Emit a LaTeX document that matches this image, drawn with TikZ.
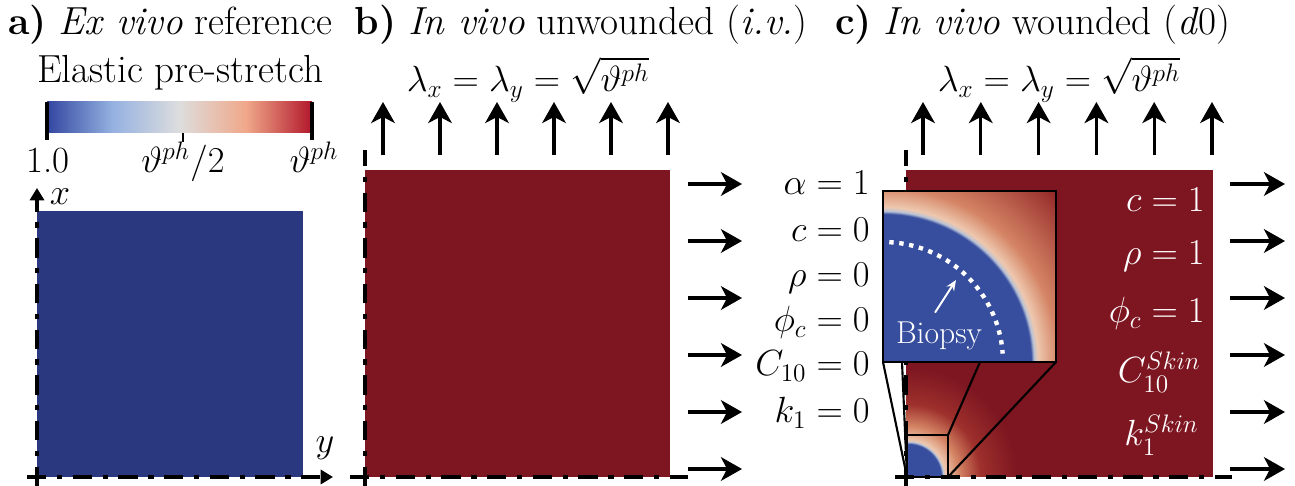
\documentclass[tikz,border=0pt]{standalone}
\usepackage{amsmath,amssymb}
\usepackage{tikz}
\usetikzlibrary{calc,arrows.meta}
\usepackage{xcolor}
\definecolor{refblue}{RGB}{42,57,127}
\definecolor{skinred}{RGB}{125,22,33}
\definecolor{cbblue}{RGB}{50,70,160}
\definecolor{cblight}{RGB}{150,178,225}
\definecolor{cbmid}{RGB}{221,221,221}
\definecolor{cbpeach}{RGB}{240,168,138}
\definecolor{cbred}{RGB}{178,24,43}
\definecolor{woundblue}{RGB}{55,78,158}
\definecolor{rimgray}{RGB}{185,195,215}
\definecolor{peach}{RGB}{238,200,175}
\definecolor{burnt}{RGB}{212,132,100}
\definecolor{deepred}{RGB}{145,36,38}
\definecolor{fadered}{RGB}{158,48,44}

% colour map of the bar (25bp..75bp is the bar)
\pgfdeclarehorizontalshading{prestretch}{100bp}{color(0bp)=(cbblue); color(25bp)=(cbblue);
  color(37.5bp)=(cblight); color(50bp)=(cbmid); color(62.5bp)=(cbpeach); color(75bp)=(cbred); color(100bp)=(cbred)}
% radial profiles of the wound, inset and full view (25bp = radius of the shaded circle)
\pgfdeclareradialshading{insetglow}{\pgfpointorigin}{color(0bp)=(woundblue); color(15.1bp)=(woundblue);
  color(15.4bp)=(rimgray); color(15.8bp)=(peach); color(17.9bp)=(burnt); color(25bp)=(deepred); color(50bp)=(deepred)}
\pgfdeclareradialshading{woundglow}{\pgfpointorigin}{color(0bp)=(woundblue); color(6.35bp)=(woundblue);
  color(6.75bp)=(rimgray); color(7.1bp)=(peach); color(9.8bp)=(burnt); color(14bp)=(fadered);
  color(21bp)=(skinred); color(50bp)=(skinred)}

\begin{document}
\begin{tikzpicture}[x=0.02cm,y=0.02cm,>=Stealth]
  \tikzset{
    lab/.style={font=\fontsize{21}{25}\selectfont,inner sep=0pt},
    big/.style={font=\fontsize{22.3}{27}\selectfont,inner sep=0pt},
    wlab/.style={lab,text=white,anchor=base east},
    blab/.style={lab,anchor=base east},
    pull/.style={line width=1.8pt,-{Stealth[length=12pt,width=13.5pt,inset=3.5pt]}},
    axisline/.style={line width=2.1pt,dash pattern=on 11pt off 6pt on 3pt off 6pt},
    axisarrow/.style={axisline,-{Triangle[length=7pt,width=8pt]}},
    tick/.style={line width=2.2pt},
    zoombox/.style={draw=black,line width=1.6pt},
    zoomline/.style={draw=black,line width=1.2pt},
  }
  \useasboundingbox (0,0) rectangle (1295,486);

  % titles
  \node[big,anchor=base west] (ta) at (8,451) {\textbf{a)} \textit{Ex vivo} reference};
  \node[big,anchor=base] (tb) at (581,451) {\textbf{b)} \textit{In vivo} unwounded (\textit{i.v.})};
  \node[big,anchor=base] (tc) at (1033,451) {\textbf{c)} \textit{In vivo} wounded (\textit{d}0)};

  % colour bar
  \node[big,anchor=base] (cbtitle) at (180,403) {Elastic pre-stretch};
  \shade[shading=prestretch] (47,353) rectangle (312,384);
  \draw[tick] (47,346) -- (47,384);
  \draw[tick] (312,346) -- (312,384);
  \draw[line width=1.6pt] (183,344) -- (183,353);
  \node[lab,anchor=base] (cbmin) at (48,313) {1.0};
  \node[lab,anchor=base] (cbhalf) at (183,313) {$\vartheta^{ph}/2$};
  \node[lab,anchor=base] (cbmax) at (314,313) {$\vartheta^{ph}$};

  % a) reference square
  \fill[refblue] (37,9) rectangle (303,275);
  \draw[axisarrow] (37,0) -- (37,298);
  \draw[axisarrow] (27,9) -- (333,9);
  \node[lab] (xlab) at (60,289) {$x$};
  \node[lab] (ylab) at (325,38) {$y$};

  % b) unwounded square
  \fill[skinred] (365,9) rectangle (670,316);
  \draw[axisline] (365,0) -- (365,336);
  \draw[axisline] (350,9) -- (688,9);
  \node[lab,anchor=base] (stretchb) at (528,394) {$\lambda_x=\lambda_y=\sqrt{\vartheta^{ph}}$};

  % c) wounded square with the small wound
  \fill[skinred] (906,9) rectangle (1213,316);
  \begin{scope}
    \clip (906,9) rectangle (1213,316);
    \shade[shading=woundglow] (908,9) circle (130);
  \end{scope}
  \draw[axisline] (906,0) -- (906,336);
  \draw[axisline] (895,9) -- (1232,9);
  \node[lab,anchor=base] (stretchc) at (1059,394) {$\lambda_x=\lambda_y=\sqrt{\vartheta^{ph}}$};

  % applied stretch
  \foreach \i in {0,...,5} {
    \draw[pull] (383+57*\i,331) -- (383+57*\i,384);
    \draw[pull] (923+57.8*\i,331) -- (923+57.8*\i,384);
    \draw[pull] (688,17+57*\i) -- (742,17+57*\i);
    \draw[pull] (1230,17+57*\i) -- (1285,17+57*\i);
  }

  % unwounded values
  \node[blab] (alpha0) at (870,291) {$\alpha=1$};
  \node[blab] (c0) at (870,244) {$c=0$};
  \node[blab] (rho0) at (870,199) {$\rho=0$};
  \node[blab] (phi0) at (870,154) {$\phi_c=0$};
  \node[blab] (C0) at (870,110) {$C_{10}=0$};
  \node[blab] (k0) at (870,63) {$k_1=0$};

  % skin values
  \node[wlab] (c1) at (1205,274) {$c=1$};
  \node[wlab] (rho1) at (1205,221) {$\rho=1$};
  \node[wlab] (phi1) at (1205,163) {$\phi_c=1$};
  \node[wlab] (C1) at (1201,103) {$C_{10}^{Skin}$};
  \node[wlab] (k1) at (1199,40) {$k_1^{Skin}$};

  % zoom onto the biopsy
  \coordinate (smallBL) at (907,9); \coordinate (smallBR) at (948,9);
  \coordinate (smallTR) at (948,51);
  \coordinate (bigBL) at (883,124); \coordinate (bigBR) at (1056,124);
  \coordinate (bigTR) at (1056,295);
  \draw[zoombox] (smallBL) rectangle (smallTR);
  \draw[zoomline] (bigBL) -- (smallBL);
  \draw[zoomline] (902,124) -- (smallBL);
  \draw[zoomline] (980,124) -- (smallTR);
  \draw[zoomline] (bigBR) -- (smallBR);
  \begin{scope}
    \clip (bigBL) rectangle (bigTR);
    \shade[shading=insetglow] (bigBL) circle (245);
  \end{scope}
  \draw[zoombox] (bigBL) rectangle (bigTR);
  \draw[white,line width=2.5pt,dash pattern=on 2.5pt off 3.2pt]
    ($(bigBL)+(87:120)$) arc (87:4:120);
  \node[font=\fontsize{18}{21}\selectfont,text=white,inner sep=0pt] (biopsy) at (939,150) {Biopsy};
  \coordinate (biopsytip) at (956,206);
  \draw[white,line width=1.1pt,-{Stealth[length=6pt,width=5pt]}] ($(biopsy.north)+(-4,9)$) -- (biopsytip);
\end{tikzpicture}
\end{document}
